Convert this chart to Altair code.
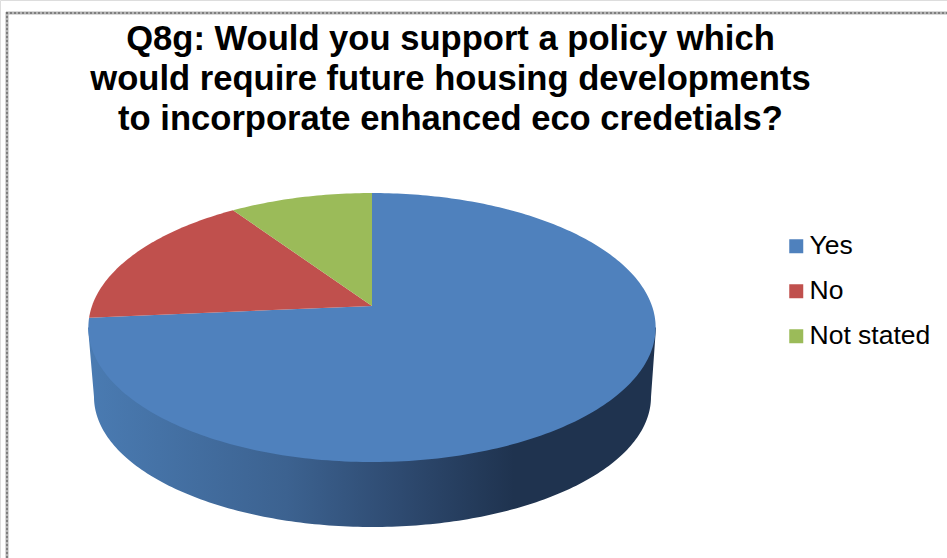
import math
import altair as alt
import pandas as pd

# Survey shares, percent of respondents
categories = ["Yes", "No", "Not stated"]
shares = [73.6, 16.9, 9.5]
colors = ["#4f81bd", "#c0504d", "#9bbb59"]
title_lines = [
    "Q8g: Would you support a policy which",
    "would require future housing developments",
    "to incorporate enhanced eco credetials?",
]

W, H = 947, 558

# Tilted disc: the apex sits above the ellipse centre because of the perspective.
CX, APEX_Y, K, A, C = 372.0, 306.0, 280.0, -82.1, 0.16


def rim(angle_deg):
    """Project a clockwise angle from twelve o'clock onto the tilted top face."""
    t = math.radians(angle_deg)
    u, v = math.sin(t), math.cos(t)
    d = 1 + C * v
    return CX + K * u / d, (A * v + APEX_Y) / d


rows = []
start = 0.0
for name, share in zip(categories, shares):
    sweep = share * 3.6
    steps = max(12, int(sweep))
    pts = [(CX, APEX_Y)] + [rim(start + sweep * i / steps) for i in range(steps + 1)] + [(CX, APEX_Y)]
    for i, (x, y) in enumerate(pts):
        rows.append({"slice": name, "i": i, "x": x, "y": y})
    start += sweep
slices = pd.DataFrame(rows)

# Outer wall: from the left of the top face down around the lower rim and back up.
wall_rows = []
steps = 180
for i in range(steps + 1):
    a = 270 - 180 * i / steps
    t = math.radians(a)
    wall_rows.append({"i": i, "x": 372.5 + 278.5 * math.sin(t), "y": 397 - 130 * math.cos(t)})
wall_rows.append({"i": steps + 1, "x": 656.0, "y": 327.5})
wall_rows.append({"i": steps + 2, "x": 88.0, "y": 327.5})
wall = pd.DataFrame(wall_rows)

x_scale = alt.Scale(domain=[0, W], range=[0, W], nice=False, zero=False)
y_scale = alt.Scale(domain=[0, H], range=[0, H], nice=False, zero=False)
x_enc = alt.X("x:Q", scale=x_scale, axis=None)
y_enc = alt.Y("y:Q", scale=y_scale, axis=None)

wall_gradient = alt.Gradient(
    gradient="linear",
    x1=0, x2=1, y1=0, y2=0,
    stops=[
        alt.GradientStop(color="#4a7bb2", offset=0),
        alt.GradientStop(color="#3c6290", offset=0.35),
        alt.GradientStop(color="#2e4a70", offset=0.55),
        alt.GradientStop(color="#1f334f", offset=0.75),
        alt.GradientStop(color="#1f334f", offset=1),
    ],
)

wall_layer = alt.Chart(wall).mark_line(fill=wall_gradient, strokeWidth=0).encode(
    x=x_enc, y=y_enc, order="i:Q"
)

slice_layer = alt.Chart(slices).mark_line(strokeWidth=0).encode(
    x=x_enc,
    y=y_enc,
    order="i:Q",
    fill=alt.Fill(
        "slice:N",
        scale=alt.Scale(domain=categories, range=colors),
        sort=categories,
        legend=alt.Legend(
            title=None,
            orient="none",
            legendX=783,
            legendY=233,
            symbolType="square",
            symbolSize=196,
            symbolStrokeWidth=0,
            labelFont="Liberation Sans",
            labelFontSize=26.5,
            labelColor="#000000",
            labelOffset=0,
            rowPadding=18,
        ),
    ),
)

# Dotted frame round the chart area: a pale band with a darker dotted line on it
one = pd.DataFrame({"k": [0]})
band = dict(color="#b4b4b4", strokeWidth=3)
dots = dict(color="#6e6e6e", strokeWidth=1.5, strokeDash=[2, 2])
frame_layers = []
for style in (band, dots):
    frame_layers.append(
        alt.Chart(one).mark_rule(**style).encode(x=alt.value(6), x2=alt.value(W), y=alt.value(13))
    )
    frame_layers.append(
        alt.Chart(one).mark_rule(**style).encode(x=alt.value(7), y=alt.value(12), y2=alt.value(H))
    )

chart = (
    alt.layer(*frame_layers, wall_layer, slice_layer)
    .properties(
        width=W,
        height=H,
        padding=0,
        autosize=alt.AutoSizeParams(type="none"),
        title=alt.TitleParams(
            text=title_lines,
            font="Liberation Sans",
            fontSize=34.6,
            fontWeight="bold",
            color="#000000",
            lineHeight=40,
            anchor="middle",
            dx=-23,
            dy=142,
            baseline="top",
        ),
    )
    .configure_view(strokeWidth=0)
    .configure(background="#ffffff")
)

chart.save("out.html", embed_options={"renderer": "svg", "actions": False})
